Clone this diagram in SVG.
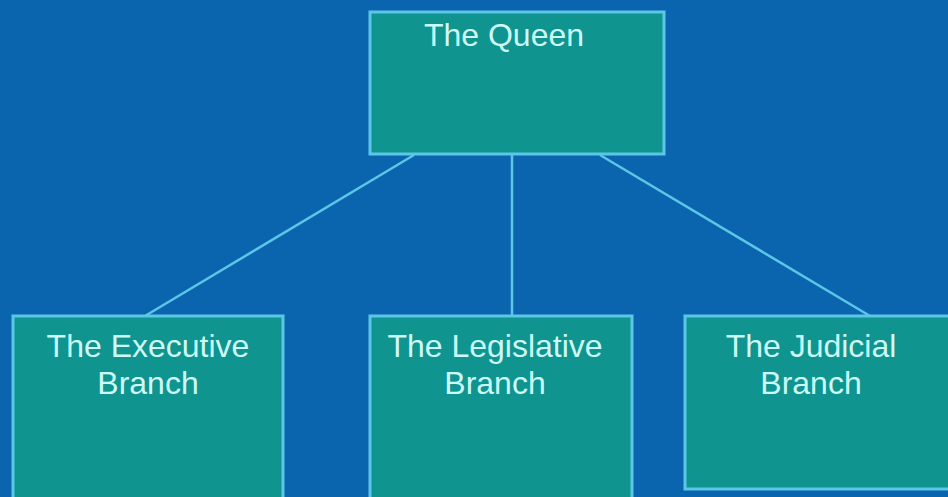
<svg xmlns="http://www.w3.org/2000/svg" width="948" height="497" viewBox="0 0 948 497">
<style>
.box{fill:#0f948f;stroke:#5cc6e6;stroke-width:3}
.lbl{font-family:"Liberation Sans",Arial,sans-serif;font-size:32px;fill:#cdfaf6;text-anchor:middle}
.con{stroke:#5cc6e6;stroke-width:2.5;fill:none}
</style>
<rect width="948" height="497" fill="#0b64ae"/>
<g id="connectors">
<line class="con" x1="414" y1="155" x2="145" y2="316"/>
<line class="con" x1="512" y1="155" x2="512" y2="316"/>
<line class="con" x1="600" y1="155" x2="870" y2="316"/>
</g>
<g id="queen">
<rect class="box" x="370" y="12" width="294" height="142"/>
<text class="lbl" x="504" y="46">The Queen</text>
</g>
<g id="executive">
<rect class="box" x="13" y="316" width="270" height="200"/>
<text class="lbl" x="148" y="357">The Executive</text>
<text class="lbl" x="148" y="394">Branch</text>
</g>
<g id="legislative">
<rect class="box" x="370" y="316" width="262" height="200"/>
<text class="lbl" x="495" y="357">The Legislative</text>
<text class="lbl" x="495" y="394">Branch</text>
</g>
<g id="judicial">
<rect class="box" x="685" y="316" width="280" height="173"/>
<text class="lbl" x="811" y="357">The Judicial</text>
<text class="lbl" x="811" y="394">Branch</text>
</g>
</svg>
